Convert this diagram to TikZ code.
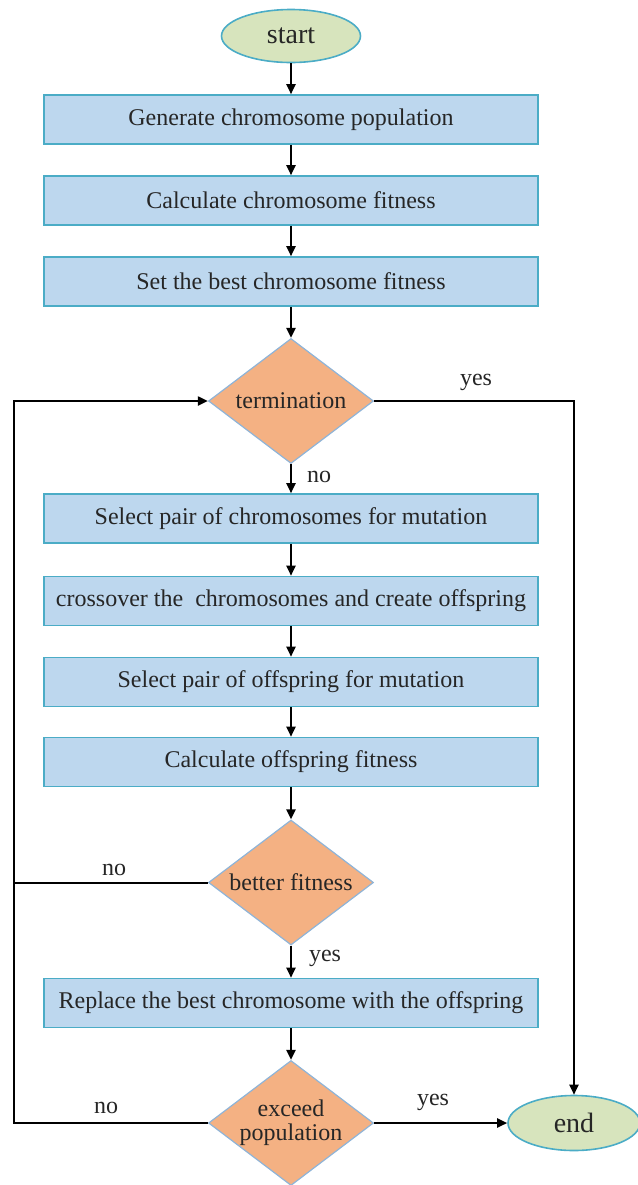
\documentclass[tikz,border=0pt]{standalone}
\usepackage{fontspec}
\setmainfont{Liberation Serif}
\usepackage{tikz}
\usetikzlibrary{shapes.geometric, arrows.meta, positioning}
\definecolor{boxblue}{HTML}{BDD7EE}
\definecolor{edgecyan}{HTML}{4BACC6}
\definecolor{decorange}{HTML}{F4B183}
\definecolor{decedge}{HTML}{8EB4D8}
\definecolor{termgreen}{HTML}{D7E4BD}
\definecolor{textdark}{HTML}{262626}
\tikzset{
  arr/.style={-{Triangle[length=5pt, width=4.5pt]}, line width=1pt, black},
  procbox/.style={rectangle, draw=edgecyan, fill=boxblue, line width=0.8pt, minimum width=247pt, minimum height=24.5pt, text=textdark},
  decision/.style={diamond, aspect=1.32, draw=decedge, fill=decorange, line width=0.6pt, inner sep=0pt, minimum width=82.5pt, minimum height=62.5pt, align=center, text=textdark},
  terminal/.style={ellipse, draw=edgecyan, fill=termgreen, line width=0.8pt, text=textdark, font=\fontsize{14}{16}\selectfont},
  lbl/.style={text=textdark, inner sep=1pt},
}

\begin{document}
\begin{tikzpicture}[x=0.5pt, y=-0.5pt, font=\fontsize{12}{14}\selectfont]
  \useasboundingbox (0,0) rectangle (638,1185);

  % Initialisation
  \node[terminal, minimum width=69.5pt, minimum height=26.5pt] (S) at (291,36) {start};
  \node[procbox] (G) at (291,119.5) {Generate chromosome population};
  \node[procbox] (C) at (291,200.5) {Calculate chromosome fitness};
  \node[procbox] (B) at (291,281.5) {Set the best chromosome fitness};
  \draw[arr] (S) -- (G);
  \draw[arr] (G) -- (C);
  \draw[arr] (C) -- (B);

  % Termination test
  \node[decision] (T) at (291,401) {termination};
  \draw[arr] (B) -- (T);

  % Genetic operators
  \node[procbox] (P1) at (291,518.5) {Select pair of chromosomes for mutation};
  \node[procbox] (P2) at (291,601) {crossover the\ \ chromosomes and create offspring};
  \node[procbox] (P3) at (291,682) {Select pair of offspring for mutation};
  \node[procbox] (P4) at (291,762) {Calculate offspring fitness};
  \draw[arr] (T) -- (P1);
  \draw[arr] (P1) -- (P2);
  \draw[arr] (P2) -- (P3);
  \draw[arr] (P3) -- (P4);
  \node[lbl] (noT) at (319,477) {no};

  % Fitness comparison and replacement
  \node[decision] (F) at (291,882.5) {better fitness};
  \node[procbox] (R) at (291,1003) {Replace the best chromosome with the offspring};
  \node[decision] (X) at (291,1123) {exceed\\[-2pt]population};
  \node[terminal, minimum width=66pt, minimum height=27.5pt] (E) at (574,1123) {end};
  \draw[arr] (P4) -- (F);
  \draw[arr] (F) -- (R);
  \draw[arr] (R) -- (X);
  \draw[arr] (X) -- (E);
  \node[lbl] (yesF) at (325,958) {yes};
  \node[lbl] (noF) at (114,870) {no};
  \node[lbl] (yesX) at (433,1102) {yes};
  \node[lbl] (noX) at (106,1108) {no};
  \node[lbl] (yesT) at (476,382) {yes};

  % Loops back and exit
  \coordinate (L) at (14,401);
  \draw[arr] (X.west) -| (L) -- (T.west);
  \draw[line width=1pt] (F.west) -- (F.west -| L);
  \draw[arr] (T.east) -| (E.north);
\end{tikzpicture}
\end{document}
